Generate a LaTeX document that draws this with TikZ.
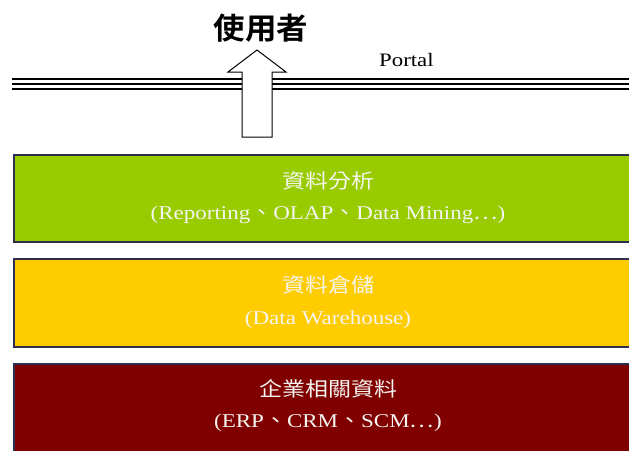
\documentclass[tikz,border=0pt]{standalone}
\usepackage{fontspec}
\setmainfont{Liberation Serif}
\newfontfamily\cjk{Noto Sans CJK TC}
\newfontfamily\cjkbold{Noto Sans CJK TC Bold}
\definecolor{layergreen}{HTML}{99CC00}
\definecolor{layeryellow}{HTML}{FFCC00}
\definecolor{layerred}{HTML}{800000}
\definecolor{layeredge}{HTML}{2E2E50}
\definecolor{softwhite}{HTML}{F4F4F0}
\newcommand{\headtext}[1]{\scalebox{1.15}[1]{\cjk\fontsize{20}{22}\selectfont #1}}
\newcommand{\subtext}[1]{\scalebox{1.18}[1]{\fontsize{19.5}{21}\selectfont #1}}
\begin{document}
\begin{tikzpicture}[x=1pt,y=-1pt,
  layer/.style={draw=layeredge, line width=1.2pt},
  label/.style={text=softwhite, align=center, inner sep=0pt},
  rail/.style={line width=1.3pt, black}]
\useasboundingbox (0,0) rectangle (629,450);
% portal rails
\draw[rail] (12,79) -- (629,79);
\draw[rail] (12,84) -- (629,84);
\draw[rail] (12,89) -- (629,89);
% upward arrow towards the user
\draw[line width=1pt, fill=white] (242,137) -- (242,72) -- (228,72) -- (257,50)
  -- (286,72) -- (272,72) -- (272,137) -- cycle;
\node[inner sep=0pt] (user) at (261,28) {\scalebox{1.05}[1]{\cjkbold\fontsize{30}{32}\selectfont 使用者}};
\node[inner sep=0pt, anchor=west] (portal) at (379,60) {\fontsize{19}{20}\selectfont\scalebox{1.2}[1]{Portal}};
% layers
\draw[layer, fill=layergreen] (14,155) rectangle (640,242);
\node[label] (analysis) at (328,181) {\headtext{資料分析}};
\node[label] (analysissub) at (328,215) {\subtext{(Reporting{\cjk 、}OLAP{\cjk 、}Data Mining{\cjk …})}};
\draw[layer, fill=layeryellow] (14,259) rectangle (640,347);
\node[label] (dw) at (328,285) {\headtext{資料倉儲}};
\node[label] (dwsub) at (328,320) {\subtext{(Data Warehouse)}};
\draw[layer, fill=layerred] (14,364) rectangle (640,460);
\node[label] (ent) at (328,389) {\headtext{企業相關資料}};
\node[label] (entsub) at (328,423) {\subtext{(ERP{\cjk 、}CRM{\cjk 、}SCM{\cjk …})}};
\end{tikzpicture}
\end{document}
